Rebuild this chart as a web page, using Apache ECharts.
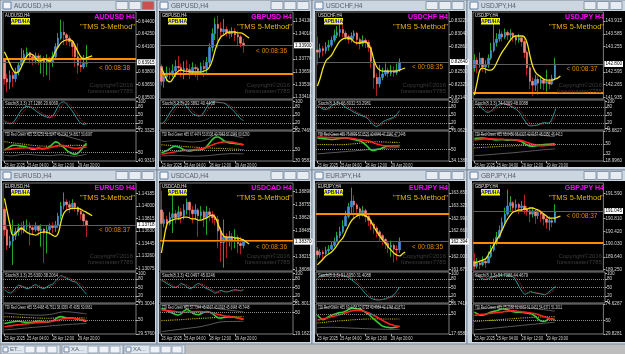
<!DOCTYPE html>
<html>
<head>
<meta charset="utf-8">
<script src="https://cdn.jsdelivr.net/npm/echarts@6.0.0/dist/echarts.min.js"></script>
<style>
  html, body { margin: 0; padding: 0; background: #b0b0b0; }
  #main { width: 625px; height: 354px; }
</style>
</head>
<body>
<div id="main"></div>
<script>
// x axis: H4 bars, 30 drawn + empty shift space on the right
const SLOTS = 47;
const X_LABELS = ['23 Apr 2025', '25 Apr 04:00', '28 Apr 12:00', '29 Apr 20:00'];
const X_LABEL_AT = [0, 8, 17, 26];
const STOCH_TICKS = [0, 20, 50, 80, 100];
const STOCH_LEVELS = [20, 50, 80];

// ---- AUDUSD (points, 1e-5) ----
const AUD_OPEN0 = 63950;
const AUD_CLOSE = [63720,63680,63760,63720,63800,63880,63950,64010,64030,63980,63940,63990,63950,63960,63920,63960,63920,63980,64100,64200,64270,64240,64200,64160,64100,63980,63880,63860,63900,63915];
const AUD_HIGH = [63960,63780,63820,63800,63850,63920,64080,64060,64090,64040,64010,64030,64020,64000,63990,64010,63980,64040,64140,64260,64420,64400,64260,64230,64180,64120,64140,63960,64000,64120];
const AUD_LOW = [63650,63560,63600,63620,63680,63760,63850,63920,63960,63900,63880,63900,63880,63780,63740,63760,63700,63860,63960,64080,64180,64120,64120,64100,63980,63860,63780,63800,63840,63860];
const AUD_MA = [64038,63967,63896,63826,63790,63802,63861,63932,63991,64014,64003,63967,63932,63932,63955,63944,63932,63967,64038,64097,64144,64168,64180,64180,64168,64109,64038,63979,63955,63967,63979,63991];
const AUD_TICKS = [63500,63650,63800,64100,64250,64400];
const AUD_ORANGE = 63960;
const AUD_K = [26,20,18,22,35,52,68,78,82,80,74,66,58,52,46,42,40,46,62,82,96,98,90,78,64,48,32,20,16,17];
const AUD_D = [30,26,22,20,25,36,52,66,76,80,79,74,66,59,52,47,43,43,49,63,80,92,95,89,78,64,49,34,23,21];
const AUD_GREEN = [52.4,54.1,56.0,57.3,57.4,57.0,56.5,56.3,55.1,54.0,53.2,53.5,54.6,53.8,53.7,54.5,56.1,58.5,61.0,60.2,57.1,55.3,52.2,50.1,48.6,48.1,49.2,52.1,56.0,59.4];
const AUD_RED = [53.0,53.1,53.4,53.8,54.1,54.3,54.6,54.7,54.8,54.5,54.3,54.0,53.8,53.9,54.0,54.4,54.9,55.6,56.4,57.0,57.3,57.0,56.2,55.4,54.7,54.2,54.4,54.9,55.3,55.5];
const AUD_BASE = [61.2,60.9,60.3,60.1,59.5,59.3,58.7,58.5,57.9,57.7,57.2,57.1,56.7,56.7,56.4,56.5,56.2,56.4,56.3,56.7,56.8,57.1,57.0,57.3,57.2,57.4,57.3,57.2,57.4,57.3];
const AUD_UP = [70.8,71.2,71.9,72.4,72.0,71.6,71.1,70.7,70.3,70.5,70.9,71.2,70.8,70.4,70.0,69.7,69.5,69.9,70.6,69.8,68.6,67.7,66.9,66.0,65.2,64.4,63.5,62.7,61.9,61.2];
const AUD_DN = [47.1,46.6,46.3,46.4,46.8,47.3,47.7,47.9,48.1,47.8,47.5,47.2,47.0,46.9,46.8,46.6,46.5,46.7,47.0,47.4,47.5,47.3,46.8,46.4,46.1,46.0,46.3,46.8,47.4,47.9];
const AUD_TDI_TICKS = [40.9319, 50, 72.3325];

// ---- GBPUSD ----
const GBP_OPEN0 = 133700;
const GBP_CLOSE = [133560,133600,133640,133620,133660,133700,133690,133660,133680,133670,133650,133690,133680,133660,133700,133680,133740,133880,134010,134100,134060,134030,134050,134020,134010,134030,134000,133980,133920,133900];
const GBP_HIGH = [133720,133650,133700,133690,133720,133760,133800,133730,133750,133760,133720,133740,133720,133700,133740,133760,133790,133920,134060,134160,134180,134120,134150,134080,134050,134070,134060,134040,134000,133960];
const GBP_LOW = [133520,133500,133560,133580,133600,133600,133620,133600,133580,133620,133580,133620,133600,133570,133620,133600,133640,133700,133840,133950,133880,133960,133990,133980,133960,133980,133940,133900,133880,133830];
const GBP_MA = [133686,133629,133572,133554,133582,133629,133657,133667,133657,133657,133648,133648,133648,133648,133648,133657,133667,133695,133761,133856,133931,133979,133998,134017,134026,134026,134026,134017,134017,134007,133988,133969];
const GBP_TICKS = [133410,133530,133650,133770,134010,134130];
const GBP_ORANGE = 133629;
const GBP_K = [18,25,40,58,72,85,95,98,92,80,66,55,50,46,48,60,78,92,97,98,96,95,94,88,80,70,60,48,36,29];
const GBP_D = [22,21,28,41,57,71,84,93,95,90,79,67,57,50,48,51,62,77,89,96,97,96,95,92,87,79,70,59,48,40];
const GBP_GREEN = [45.5,47.1,49.0,52.2,55.0,56.3,55.1,53.0,50.2,48.6,48.2,49.1,50.0,50.6,50.8,52.2,56.0,62.1,68.0,72.0,72.5,70.1,66.2,63.1,62.0,61.7,61.0,60.2,59.6,58.9];
const GBP_RED = [42.8,43.4,44.3,45.1,46.0,47.0,47.8,48.5,49.0,49.6,50.0,50.4,50.9,51.3,52.0,53.1,54.5,56.6,58.5,60.6,62.0,63.3,64.0,64.4,64.1,63.5,62.4,61.3,60.1,59.0];
const GBP_BASE = [58.9,58.7,58.2,58.0,57.5,57.3,56.7,56.5,55.9,55.7,55.2,55.1,54.6,54.5,54.0,53.9,53.5,53.5,53.1,53.0,52.7,52.7,52.3,52.2,51.9,51.8,51.3,51.3,50.9,50.8];
const GBP_UP = [64.2,64.6,65.1,65.4,66.1,66.4,66.0,65.4,65.1,64.4,64.1,63.9,64.1,64.6,65.0,66.2,68.1,71.0,74.1,76.0,77.1,76.9,76.6,75.9,75.6,74.9,74.1,72.9,72.1,70.9];
const GBP_DN = [39.5,39.9,40.0,40.3,40.5,40.6,40.3,40.2,39.9,39.8,39.5,39.5,39.3,39.5,39.7,39.8,40.1,40.5,41.0,41.6,42.0,42.6,43.0,43.2,43.5,43.7,43.6,43.4,43.4,43.2];
const GBP_TDI_TICKS = [30.9583, 50, 82.7469];

// ---- USDCHF ----
const CHF_OPEN0 = 82810;
const CHF_CLOSE = [82780,82830,82800,82850,82880,82950,83020,83060,83100,83050,83000,82960,83010,83050,82960,82900,82950,82920,82850,82650,82420,82330,82420,82470,82520,82480,82510,82490,82530,82640];
const CHF_HIGH = [83000,82900,82870,82920,82950,83000,83100,83150,83180,83170,83080,83030,83060,83090,83070,82990,83020,82980,82950,82880,82680,82480,82600,82560,82620,82560,82600,82580,82620,82690];
const CHF_LOW = [82600,82700,82720,82760,82800,82850,82920,82980,83000,82990,82950,82900,82920,82960,82880,82820,82860,82840,82780,82550,82260,82160,82280,82380,82440,82420,82440,82430,82460,82500];
const CHF_MA = [82299,82413,82555,82654,82697,82739,82810,82881,82938,82967,82981,82981,82967,82924,82910,82910,82924,82924,82881,82810,82668,82569,82526,82512,82512,82512,82512,82512,82512,82526,82541,82555];
const CHF_TICKS = [82140,82320,82500,82860,83040,83220];
const CHF_ORANGE = null;
const CHF_K = [85,78,72,70,76,84,90,95,93,86,78,72,66,60,55,50,46,42,35,22,12,8,15,24,30,34,38,42,52,66];
const CHF_D = [82,83,78,73,72,76,83,90,93,91,86,79,72,66,60,55,50,46,41,33,23,14,12,16,23,29,34,38,44,53];
const CHF_GREEN = [66.5,66.1,65.4,65.0,64.6,64.2,64.5,65.1,65.5,66.0,66.5,65.9,65.0,64.1,63.0,62.0,60.1,57.0,53.1,49.5,48.9,50.1,51.0,52.6,54.0,55.0,55.4,55.5,55.4,55.6];
const CHF_RED = [67.8,67.5,67.4,67.1,67.0,66.9,66.7,66.7,66.5,66.5,66.4,66.2,65.7,65.3,64.6,64.0,63.3,62.5,61.9,61.0,59.4,58.0,56.8,55.9,55.5,55.3,55.4,55.5,55.4,55.5];
const CHF_BASE = [57.2,57.3,57.1,57.2,57.0,57.1,56.9,57.0,57.1,57.0,57.2,57.6,57.8,58.3,58.6,59.1,59.4,59.9,60.2,60.7,61.0,61.1,60.9,60.8,60.6,60.4,60.3,60.1,60.1,60.0];
const CHF_UP = [72.1,71.9,72.0,71.7,71.5,71.1,71.0,70.9,71.1,71.2,71.6,71.5,71.5,71.1,70.8,70.3,70.0,69.4,69.0,70.1,71.0,71.6,71.4,71.0,70.4,70.1,69.4,69.0,68.4,68.0];
const CHF_DN = [44.0,44.4,44.6,45.1,45.3,45.7,46.0,46.2,46.7,47.0,47.2,47.7,48.0,48.2,48.7,49.0,49.2,49.7,50.0,50.2,50.7,51.0,51.2,51.7,52.0,52.2,52.6,52.7,53.0,53.1];
const CHF_TDI_TICKS = [34.1383, 50, 76.0621];

// ---- USDJPY (points, 1e-3) ----
const JPY_OPEN0 = 142700;
const JPY_CLOSE = [142900,142800,142950,142720,142780,142950,143150,143350,143450,143580,143500,143620,143550,143600,143500,143420,143480,143380,143100,142700,142350,142250,142400,142300,142380,142300,142350,142280,142420,142800];
const JPY_HIGH = [143050,142980,143100,142960,142900,143050,143350,143860,143600,143700,143650,143720,143680,143700,143620,143560,143580,143500,143450,143150,142750,142450,142520,142480,142500,142420,142650,142420,142520,142960];
const JPY_LOW = [142600,142560,142700,142600,142560,142700,142900,143100,143250,143380,143380,143450,143420,143450,143380,143300,143350,143250,142950,142500,142150,141960,142100,142000,142150,142120,142080,142150,142250,142380];
const JPY_MA = [141992,142330,142642,142694,142668,142642,142642,142694,142824,142980,143110,143214,143318,143422,143500,143526,143526,143526,143500,143344,143032,142746,142590,142512,142460,142408,142382,142382,142382,142408,142434,142486];
const JPY_TICKS = [141935,142265,142595,143255,143585,143915];
const JPY_ORANGE = 142044;
const JPY_K = [90,88,80,72,62,60,66,75,84,90,92,90,86,82,76,70,60,44,28,14,10,11,12,16,20,22,20,24,46,74];
const JPY_D = [86,89,86,80,71,65,63,67,75,83,89,91,89,86,81,76,69,58,44,29,17,12,11,13,16,19,21,22,30,48];
const JPY_GREEN = [60.0,60.5,60.9,61.0,60.4,59.5,58.6,58.0,57.4,57.8,58.1,57.5,57.0,57.2,57.5,56.9,56.0,54.3,51.1,48.0,46.1,45.8,46.6,47.5,48.4,49.0,49.4,49.6,50.1,50.3];
const JPY_RED = [57.5,58.1,58.5,59.0,59.3,59.4,59.3,59.1,58.8,58.7,58.5,58.3,58.2,58.0,57.8,57.4,57.0,56.1,54.5,52.8,51.0,49.6,48.3,47.5,47.1,47.0,47.3,47.8,48.2,48.6];
const JPY_BASE = [42.9,43.3,43.5,43.9,44.0,44.4,44.6,45.0,45.2,45.6,45.8,46.1,46.2,46.5,46.6,46.9,47.0,47.3,47.4,47.6,47.6,47.8,47.8,48.0,48.0,48.2,48.2,48.4,48.4,48.5];
const JPY_UP = [66.1,66.4,67.1,67.4,68.1,68.4,69.1,69.4,70.0,70.1,69.9,69.6,69.0,68.6,68.0,67.6,67.0,66.6,66.1,66.4,67.1,67.4,67.0,66.6,66.0,65.6,65.1,64.4,64.1,63.5];
const JPY_DN = [28.7,29.1,29.3,29.7,30.0,30.5,30.8,31.3,31.6,32.1,32.4,32.9,33.2,33.7,34.0,34.6,35.0,35.6,36.0,36.6,37.0,37.6,38.0,38.6,39.0,39.6,40.0,40.4,40.6,41.0];
const JPY_TDI_TICKS = [18.996, 32, 50, 73.6827];

// ---- EURUSD ----
const EUR_OPEN0 = 113950;
const EUR_CLOSE = [113650,113420,113480,113560,113620,113680,113650,113700,113720,113680,113650,113700,113640,113660,113600,113650,113700,113680,113720,113850,114000,114060,114020,113980,114040,113980,113920,113880,113780,113718];
const EUR_HIGH = [113980,113700,113560,113800,113680,113740,113760,113780,113800,113760,113720,113760,113720,113730,113680,113710,113740,113760,113780,113900,114060,114200,114100,114080,114100,114060,114000,113960,113900,113800];
const EUR_LOW = [113560,113350,113380,113130,113500,113560,113580,113600,113640,113420,113580,113620,113560,113400,113160,113300,113580,113600,113620,113680,113800,113950,113940,113900,113950,113920,113860,113800,113700,113540];
const EUR_MA = [114114,113915,113718,113570,113596,113644,113670,113644,113610,113590,113581,113570,113590,113610,113619,113610,113596,113570,113551,113596,113767,113892,113940,113955,113966,113966,113966,113951,113926,113906,113881,113856];
const EUR_TICKS = [113075,113260,113445,113630,113815,114000,114185];
const EUR_ORANGE = null;
const EUR_K = [42,35,30,36,48,58,55,50,46,48,56,60,54,48,46,52,58,62,72,84,92,88,82,78,72,70,62,50,38,26];
const EUR_D = [48,44,36,34,38,47,54,54,50,48,50,55,57,54,49,49,52,57,64,73,83,88,87,83,77,73,68,61,50,38];
const EUR_GREEN = [45.0,45.6,46.5,47.4,48.0,48.1,47.5,47.0,46.6,46.5,47.1,48.0,48.5,48.0,47.4,47.0,47.6,48.5,51.0,54.0,55.0,54.1,53.0,52.6,52.5,52.0,51.1,50.0,49.1,48.0];
const EUR_RED = [40.2,40.9,41.4,42.0,42.6,43.0,43.5,44.1,44.5,45.0,45.4,45.9,46.2,46.6,47.1,47.4,47.8,48.3,49.1,50.0,51.0,51.8,52.4,52.6,52.5,52.2,51.6,50.8,50.0,49.3];
const EUR_BASE = [54.8,54.8,54.6,54.5,54.3,54.2,53.9,53.8,53.5,53.4,53.1,53.0,52.8,52.7,52.6,52.6,52.6,52.7,52.8,53.0,53.2,53.3,53.4,53.4,53.4,53.3,53.2,53.1,53.0,52.9];
const EUR_UP = [60.1,59.9,59.6,59.1,58.8,58.3,58.0,57.7,57.6,57.3,57.2,57.0,57.1,57.0,57.2,57.6,58.0,58.6,59.5,60.6,61.5,62.1,62.0,61.8,61.4,61.0,60.4,60.0,59.4,59.0];
const EUR_DN = [35.4,35.8,36.0,36.5,36.8,37.3,37.6,38.1,38.4,38.9,39.2,39.6,39.8,40.2,40.4,40.9,41.2,41.7,42.0,42.4,42.6,43.0,43.2,43.6,43.8,44.1,44.2,44.5,44.6,44.8];
const EUR_TDI_TICKS = [29.576, 50, 73.3004];

// ---- USDCAD ----
const CAD_OPEN0 = 138700;
const CAD_CLOSE = [138560,138600,138560,138620,138660,138620,138680,138640,138700,138780,138700,138660,138700,138640,138680,138620,138680,138650,138620,138600,138480,138360,138420,138380,138420,138380,138400,138350,138330,138370];
const CAD_HIGH = [138900,138680,138640,138680,138860,138700,138740,138720,138760,138820,138790,138740,138760,138720,138740,138700,138740,138720,138690,138660,138640,138520,138600,138460,138480,138460,138500,138440,138420,138400];
const CAD_LOW = [138380,138520,138500,138540,138460,138560,138600,138560,138600,138650,138620,138560,138600,138420,138600,138520,138440,138580,138560,138540,138300,138160,138100,138200,138320,138280,138300,138250,138240,138300];
const CAD_MA = [138252,138418,138554,138585,138595,138606,138606,138616,138626,138626,138616,138606,138606,138595,138595,138606,138616,138637,138647,138626,138554,138481,138429,138418,138418,138418,138408,138408,138398,138387,138366,138346];
const CAD_TICKS = [138080,138215,138485,138620,138755,138890];
const CAD_ORANGE = 138375;
const CAD_K = [76,70,64,58,52,50,56,64,60,52,46,50,58,64,60,52,46,42,36,30,34,40,36,34,36,40,42,40,38,42];
const CAD_D = [72,74,70,64,58,53,53,57,60,59,53,49,51,57,61,59,53,47,41,36,33,35,37,37,35,37,39,41,40,45];
const CAD_GREEN = [55.7,54.0,52.1,50.4,48.5,47.0,46.2,48.1,52.0,54.0,52.1,49.0,47.1,46.5,48.0,50.1,51.0,50.0,48.1,45.0,42.1,41.5,42.5,43.4,43.8,43.5,43.0,42.1,41.0,40.1];
const CAD_RED = [53.3,53.0,52.6,52.0,51.5,51.1,50.5,50.2,50.0,50.3,50.5,50.8,51.0,51.0,50.9,50.7,50.5,50.0,49.1,48.0,47.0,46.1,45.2,44.5,44.0,43.4,42.8,42.0,41.2,40.5];
const CAD_BASE = [38.1,38.4,38.5,38.8,38.9,39.2,39.3,39.6,39.8,40.2,40.4,40.8,41.0,41.3,41.4,41.7,41.8,42.1,42.2,42.5,42.6,42.9,43.0,43.3,43.4,43.5,43.6,43.7,43.8,43.8];
const CAD_UP = [60.0,60.6,61.0,61.4,61.5,61.1,60.5,60.1,59.5,59.6,59.4,59.5,59.0,58.6,58.0,57.6,57.0,56.6,56.0,55.6,55.0,54.6,54.0,53.6,53.0,52.6,52.0,51.6,51.0,50.5];
const CAD_DN = [22.5,23.1,23.5,24.1,24.5,25.1,25.5,26.1,26.5,27.1,27.5,28.1,28.5,29.1,29.6,30.6,31.5,32.6,33.5,34.6,35.5,36.4,36.7,36.8,36.9,37.0,37.0,37.1,37.2,37.2];
const CAD_TDI_TICKS = [19.1623, 50, 61.8013];

// ---- EURJPY ----
const EJ_OPEN0 = 162150;
const EJ_CLOSE = [162050,162120,162080,162160,162200,162300,162380,162550,162650,162800,163050,163300,163450,163350,163250,163150,163200,163050,162950,162850,162750,162650,162550,162450,162350,162250,162300,162200,162180,162394];
const EJ_HIGH = [162250,162200,162180,162260,162300,162400,162500,162650,162780,162950,163200,163400,163800,163600,163400,163300,163320,163250,163100,163000,162900,162800,162700,162600,162500,162400,162420,162350,162300,162500];
const EJ_LOW = [161950,161980,161900,162050,162080,162180,162250,162400,162480,162600,162800,163000,163100,163000,163050,162980,163050,162900,162800,162700,162600,162500,162400,162300,162200,162100,162000,161850,161900,162100];
const EJ_MA = [161788,161866,161944,162022,162074,162126,162204,162308,162412,162490,162646,162802,162932,163010,163062,163088,163088,163062,163010,162906,162776,162646,162542,162438,162360,162256,162178,162100,162048,162022,162074,162126];
const EJ_TICKS = [161675,162005,162665,162995,163325,163655];
const EJ_ORANGE = 163132;
const EJ_K = [82,90,94,96,97,96,95,95,94,92,90,85,78,70,62,52,40,28,18,12,8,6,6,8,10,14,18,24,36,52];
const EJ_D = [78,82,88,93,95,96,96,95,95,94,92,89,84,78,70,61,51,40,29,19,13,9,7,7,8,11,14,18,26,31];
const EJ_GREEN = [48.4,44.1,41.0,43.1,46.0,48.4,50.1,51.5,52.6,53.4,55.1,57.5,59.6,59.5,59.0,58.0,56.1,53.0,50.1,46.0,42.1,38.0,34.1,30.5,29.1,28.5,28.0,28.3,29.0,30.5];
const EJ_RED = [40.7,41.5,42.6,43.5,44.6,45.8,47.0,48.3,49.5,50.9,52.4,54.0,55.3,56.0,56.3,56.0,55.2,54.0,52.4,50.5,48.0,45.4,42.8,40.0,37.4,35.0,33.1,31.5,30.6,30.0];
const EJ_BASE = [35.6,36.1,36.5,37.1,37.5,38.1,38.5,39.0,39.3,39.5,39.9,40.2,40.7,41.0,41.4,41.6,41.9,42.0,42.2,42.3,42.3,42.4,42.3,42.3,42.2,42.2,42.3,42.3,42.3,42.3];
const EJ_UP = [58.0,59.1,60.0,61.1,62.0,63.1,64.0,65.0,65.6,66.1,66.4,66.6,66.5,66.4,66.0,65.6,65.0,64.6,64.0,63.5,63.1,62.5,62.0,61.6,61.0,60.5,60.1,59.5,59.0,58.5];
const EJ_DN = [28.0,28.2,28.4,28.5,28.6,28.6,28.5,28.4,28.2,28.0,27.8,27.6,27.3,27.2,27.0,26.8,26.6,26.4,26.2,26.0,25.8,25.7,25.6,25.5,25.4,25.4,25.3,25.4,25.4,25.4];
const EJ_TDI_TICKS = [17.6585, 50, 66.7414];

// ---- GBPJPY ----
const GJ_OPEN0 = 189500;
const GJ_CLOSE = [189350,189450,189400,189500,189450,189650,189850,190050,190250,190450,190700,190950,191200,191300,191150,191250,191150,191200,191100,191050,190950,191050,190900,191000,190950,190800,190700,190750,190700,191045];
const GJ_HIGH = [189750,189600,189550,189650,189600,189800,190000,190200,190400,190600,190850,191150,191700,191500,191350,191400,191300,191350,191550,191200,191150,191150,191100,191100,191080,190950,190900,190880,190850,191250];
const GJ_LOW = [189250,189280,189260,189350,189300,189450,189600,189800,190000,190200,190400,190650,190900,191050,191000,191050,190950,191050,190950,190900,190700,190850,190650,190800,190700,190600,190500,190450,190550,190700];
const GJ_MA = [189449,189480,189510,189541,189572,189695,189848,190002,190155,190278,190462,190646,190800,190923,191015,191046,191076,191076,191107,191107,191138,191138,191107,191076,191015,190953,190892,190830,190830,190830,190861,190892];
const GJ_TICKS = [189250,189640,190030,190420,190810,191590];
const GJ_ORANGE = 190084;
const GJ_K = [95,92,86,80,78,82,86,90,92,94,95,94,92,90,86,70,52,36,26,30,36,32,30,28,26,24,30,38,46,54];
const GJ_D = [92,94,91,86,81,80,82,86,89,92,94,94,94,92,89,82,69,53,38,31,31,33,33,30,28,26,27,31,38,44];
const GJ_GREEN = [62.5,60.1,58.0,57.8,59.1,61.0,62.5,63.6,64.5,66.0,67.2,67.0,66.1,64.5,63.1,62.5,62.4,62.0,61.6,61.0,60.2,59.0,56.1,52.0,49.1,48.5,50.0,53.0,52.1,50.8];
const GJ_RED = [57.8,58.3,58.9,59.3,59.8,60.4,60.8,61.3,61.9,62.3,62.8,63.5,64.0,64.3,64.3,64.0,63.5,63.1,62.5,62.0,61.5,60.8,60.0,59.0,57.5,56.0,54.6,53.1,52.0,51.5];
const GJ_BASE = [48.5,48.9,49.1,49.5,49.7,50.1,50.3,50.7,50.9,51.3,51.5,51.9,52.1,52.5,52.7,53.1,53.3,53.7,53.9,54.2,54.5,54.7,54.9,55.1,55.2,55.3,55.4,55.5,55.5,55.5];
const GJ_UP = [66.0,66.6,67.0,67.6,68.0,68.6,69.0,69.6,70.0,70.6,71.0,71.6,72.0,72.1,71.5,71.1,70.5,70.1,69.5,69.1,68.5,68.1,67.5,67.1,66.5,66.1,65.5,65.1,64.5,64.0];
const GJ_DN = [36.0,36.4,36.6,37.1,37.4,37.9,38.2,38.7,39.0,39.5,39.8,40.3,40.6,41.1,41.4,41.9,42.2,42.7,43.0,43.5,43.8,44.3,44.6,45.1,45.4,45.9,46.2,46.7,47.0,47.4];
const GJ_TDI_TICKS = [29.8281, 50, 74.6287];

// window layout
const COLS = [
  { x: 0, w: 157, bx: 2, bw: 153, plot: 3, pw: 133, br: 155 },
  { x: 157, w: 155, bx: 159, bw: 151, plot: 160, pw: 133, br: 310 },
  { x: 312, w: 155, bx: 315, bw: 150, plot: 316, pw: 133, br: 465 },
  { x: 467, w: 160, bx: 472, bw: 155, plot: 473, pw: 132, br: 623 }
];
const ROWS = [
  { y: 0, h: 170, by: 11, bh: 156, main: [12, 99], stoch: [100, 130], tdi: [131, 161] },
  { y: 170, h: 174, by: 181, bh: 161, main: [183, 271], stoch: [272, 303], tdi: [304, 334] }
];

const CHARTS = [
  { sym: 'AUDUSD', col: 0, row: 0, div: 1e5, dec: 5, min: 63480, max: 64510, open0: AUD_OPEN0, close: AUD_CLOSE, high: AUD_HIGH, low: AUD_LOW, ma: AUD_MA, ticks: AUD_TICKS, orange: AUD_ORANGE,
    timer: '< 00:08:38', k: AUD_K, d: AUD_D, stochTxt: 'Stoch(8,3,3) 17.1286 20.6069',
    tdi: [AUD_UP, AUD_DN, AUD_BASE, AUD_GREEN, AUD_RED], tdiTicks: AUD_TDI_TICKS, tdiTxt: 'TDI Red Green #25 55.6251 51.5247 43.2342 54.8817 50.6087', active: true },
  { sym: 'GBPUSD', col: 1, row: 0, div: 1e5, dec: 5, min: 133393, max: 134215, open0: GBP_OPEN0, close: GBP_CLOSE, high: GBP_HIGH, low: GBP_LOW, ma: GBP_MA, ticks: GBP_TICKS, orange: GBP_ORANGE,
    timer: '< 00:08:36', k: GBP_K, d: GBP_D, stochTxt: 'Stoch(8,3,3) 29.3892 40.4408',
    tdi: [GBP_UP, GBP_DN, GBP_BASE, GBP_GREEN, GBP_RED], tdiTicks: GBP_TDI_TICKS, tdiTxt: 'TDI Red Green #35 67.4474 53.8308 40.7063 57.0949 60.6290' },
  { sym: 'USDCHF', col: 2, row: 0, div: 1e5, dec: 5, min: 82115, max: 83350, open0: CHF_OPEN0, close: CHF_CLOSE, high: CHF_HIGH, low: CHF_LOW, ma: CHF_MA, ticks: CHF_TICKS, orange: CHF_ORANGE,
    timer: '< 00:08:35', k: CHF_K, d: CHF_D, stochTxt: 'Stoch(8,3,3) 66.8032 53.2981',
    tdi: [CHF_UP, CHF_DN, CHF_BASE, CHF_GREEN, CHF_RED], tdiTicks: CHF_TDI_TICKS, tdiTxt: 'TDI Red Green #35 75.8899 57.6529 40.6646 47.2940 47.2446' },
  { sym: 'USDJPY', col: 3, row: 0, div: 1e3, dec: 3, min: 141890, max: 144150, open0: JPY_OPEN0, close: JPY_CLOSE, high: JPY_HIGH, low: JPY_LOW, ma: JPY_MA, ticks: JPY_TICKS, orange: JPY_ORANGE,
    timer: '< 00:08:37', k: JPY_K, d: JPY_D, stochTxt: 'Stoch(8,3,3) 74.6369 48.0088',
    tdi: [JPY_UP, JPY_DN, JPY_BASE, JPY_GREEN, JPY_RED], tdiTicks: JPY_TDI_TICKS, tdiTxt: 'TDI Red Green #35 68.0450 55.0307 42.0157 48.0950 46.4413' },
  { sym: 'EURUSD', col: 0, row: 1, div: 1e5, dec: 5, min: 113040, max: 114340, open0: EUR_OPEN0, close: EUR_CLOSE, high: EUR_HIGH, low: EUR_LOW, ma: EUR_MA, ticks: EUR_TICKS, orange: EUR_ORANGE,
    timer: '< 00:08:37', k: EUR_K, d: EUR_D, stochTxt: 'Stoch(8,3,3) 25.6300 38.2064',
    tdi: [EUR_UP, EUR_DN, EUR_BASE, EUR_GREEN, EUR_RED], tdiTicks: EUR_TDI_TICKS, tdiTxt: 'TDI Red Green #35 55.4468 46.7511 38.0059 47.4050 50.0661' },
  { sym: 'USDCAD', col: 1, row: 1, div: 1e5, dec: 5, min: 138065, max: 138980, open0: CAD_OPEN0, close: CAD_CLOSE, high: CAD_HIGH, low: CAD_LOW, ma: CAD_MA, ticks: CAD_TICKS, orange: CAD_ORANGE,
    timer: '< 00:08:36', k: CAD_K, d: CAD_D, stochTxt: 'Stoch(8,3,3) 42.0497 45.0246',
    tdi: [CAD_UP, CAD_DN, CAD_BASE, CAD_GREEN, CAD_RED], tdiTicks: CAD_TDI_TICKS, tdiTxt: 'TDI Red Green #35 57.7344 45.9537 43.0918 45.6648 45.7448' },
  { sym: 'EURJPY', col: 2, row: 1, div: 1e3, dec: 3, min: 161630, max: 163920, open0: EJ_OPEN0, close: EJ_CLOSE, high: EJ_HIGH, low: EJ_LOW, ma: EJ_MA, ticks: EJ_TICKS, orange: EJ_ORANGE,
    timer: '< 00:08:35', k: EJ_K, d: EJ_D, stochTxt: 'Stoch(8,3,3) 51.6950 31.4088',
    tdi: [EJ_UP, EJ_DN, EJ_BASE, EJ_GREEN, EJ_RED], tdiTicks: EJ_TDI_TICKS, tdiTxt: 'TDI Red Green #35 69.4458 52.6718 40.4984 42.1748 43.8711' },
  { sym: 'GBPJPY', col: 3, row: 1, div: 1e3, dec: 3, min: 189205, max: 191905, open0: GJ_OPEN0, close: GJ_CLOSE, high: GJ_HIGH, low: GJ_LOW, ma: GJ_MA, ticks: GJ_TICKS, orange: GJ_ORANGE,
    timer: '< 00:08:37', k: GJ_K, d: GJ_D, stochTxt: 'Stoch(8,3,3) 54.7386 44.4679',
    tdi: [GJ_UP, GJ_DN, GJ_BASE, GJ_GREEN, GJ_RED], tdiTicks: GJ_TDI_TICKS, tdiTxt: 'TDI Red Green #35 75.2088 62.6832 51.0431 54.6371 51.2011' }
];

const FONT = 'Liberation Sans';
const AXIS_TXT = '#d6d6d6';
const slotNames = [];
for (let i = 0; i < SLOTS; i++) slotNames.push(String(i));

const option = {
  backgroundColor: '#b2b2b2',
  animation: false,
  grid: [], xAxis: [], yAxis: [], series: [], graphic: []
};
const G = option.graphic;

// sx squeezes small text horizontally, like the terminal's narrow font
function txt(x, y, s, size, fill, extra, sx) {
  G.push({ type: 'text', x: x, y: y, z: 60, silent: true, scaleX: sx || 1,
    style: Object.assign({ text: s, fontSize: size, fill: fill, fontFamily: FONT }, extra || {}) });
}
function box(x, y, w, h, fill, stroke, z) {
  G.push({ type: 'rect', z: z, silent: true, shape: { x: x, y: y, width: w, height: h },
    style: { fill: fill, stroke: stroke || null, lineWidth: stroke ? 1 : 0 } });
}

function addPanel(left, top, width, height, yMin, yMax, ticks, fmt, showX) {
  const gi = option.grid.length;
  option.grid.push({ left: left, top: top, width: width, height: height, show: true,
    borderColor: '#7c7c7c', borderWidth: 1, backgroundColor: 'transparent' });
  option.xAxis.push({ gridIndex: gi, type: 'category', data: slotNames, boundaryGap: true,
    axisLine: { show: false },
    axisTick: { show: showX, interval: (i) => X_LABEL_AT.indexOf(i) >= 0, alignWithLabel: true, length: 2, lineStyle: { color: '#b0b0b0' } },
    axisLabel: { show: false },
    splitLine: { show: false } });
  option.yAxis.push({ gridIndex: gi, type: 'value', position: 'right', min: yMin, max: yMax,
    axisLine: { show: false },
    axisTick: { show: true, customValues: ticks, length: 2, lineStyle: { color: '#b0b0b0' } },
    axisLabel: { customValues: ticks, formatter: fmt, fontSize: 4.6, color: AXIS_TXT, margin: 2, fontFamily: FONT },
    splitLine: { show: false } });
  return gi;
}

function lineSeries(gi, data, color, width, type, extra) {
  return Object.assign({ type: 'line', xAxisIndex: gi, yAxisIndex: gi, data: data, symbol: 'none',
    smooth: 0.3, silent: true, lineStyle: { color: color, width: width, type: type || 'solid' } }, extra || {});
}

// bottom strip of minimised windows
box(0, 344, 625, 10, '#bdbdbd', null, -30);
[[1, 59, 'ET...'], [62, 61, 'XA...'], [124, 61, 'XA...']].forEach(([x, w, t]) => {
  box(x, 345, w, 9, '#dfe6ee', '#8c9bad', -25);
  box(x + 2, 347, 5, 5, '#f4f4f4', '#6a86aa', -24);
  txt(x + 9, 346.5, t, 6, '#5a6470');
  [0, 1, 2].forEach(j => box(x + w - 35 + j * 11, 346, 10, 7, '#eef2f6', '#97a5b6', -24));
});

const tdiGrids = [];

CHARTS.forEach(c => {
  const C = COLS[c.col], R = ROWS[c.row];
  const P = C.plot, PW = C.pw;
  const M = R.main, S = R.stoch, T = R.tdi;

  // window frame, title bar and black client area
  box(C.x, R.y, C.w, R.h, '#ccd6e1', '#7b8a9c', -30);
  box(C.bx, R.by, C.bw, R.bh, '#000000', null, -20);
  box(C.x + 3, R.y + 2, 8, 7, '#f6f6f6', '#5d7ea8', -19);
  txt(C.x + 14, R.y + 2.5, c.sym + ',H4', 6.5, '#56606c');
  [0, 1, 2].forEach(j => {
    const bx = C.br - 39 + j * 13;
    const red = c.active && j === 2;
    box(bx, R.y + 1.5, 12, 8, red ? '#c9534c' : '#e7ecf2', '#8796a8', -19);
  });

  // main price panel
  const fmtPrice = (v) => (v / c.div).toFixed(c.dec);
  const gm = addPanel(P, M[0], PW, M[1] - M[0], c.min, c.max, c.ticks, fmtPrice, false);
  const bars = c.close.map((v, i) => [i ? c.close[i - 1] : c.open0, v, c.low[i], c.high[i]]);
  const bodies = bars.map(b => [b[0], b[1], Math.min(b[0], b[1]), Math.max(b[0], b[1])]);
  const cur = c.close[c.close.length - 1];
  const marks = [];
  if (c.orange !== null) {
    marks.push({ yAxis: c.orange, lineStyle: { color: '#ff8a00', width: 2, type: 'solid' }, label: { show: false } });
  }
  marks.push({ yAxis: cur, lineStyle: { color: '#5e5e5e', width: 1, type: 'solid' },
    label: { show: true, position: 'end', distance: 1, formatter: fmtPrice(cur), backgroundColor: '#ffffff',
      color: '#000000', fontSize: 4.6, padding: [1, 1, 0, 1], fontFamily: FONT } });
  marks.push({ yAxis: cur, lineStyle: { color: '#5e5e5e', width: 1, type: 'solid' },
    label: { show: true, position: 'insideEndBottom', distance: [6, 2], formatter: c.timer,
      color: '#e88a00', fontSize: 6.5, fontFamily: FONT } });
  option.series.push({ type: 'candlestick', xAxisIndex: gm, yAxisIndex: gm, data: bars, barWidth: 1, silent: true,
    itemStyle: { color: '#22a822', color0: '#b01e1e', borderColor: '#22a822', borderColor0: '#b01e1e', borderWidth: 1 },
    markLine: { symbol: 'none', silent: true, animation: false, data: marks } });
  option.series.push({ type: 'candlestick', xAxisIndex: gm, yAxisIndex: gm, data: bodies, barWidth: 2, silent: true,
    itemStyle: { color: '#4289e0', color0: '#f08a7e', borderColor: '#4a94ea', borderColor0: '#f4917f', borderWidth: 0.6 } });
  option.series.push(lineSeries(gm, c.ma, '#f3e31c', 1.3, 'solid', { z: 5, smooth: 0.45 }));

  txt(P + 2, M[0] + 1.5, c.sym + ',H4', 5, '#e6e6e6', null, 0.85);
  box(P + 8, M[0] + 6, 19, 6.5, '#ffff00', null, 55);
  txt(P + 17.5, M[0] + 6.8, 'APB/HA', 5, '#0a0ad0', { align: 'center', fontWeight: 'bold' });
  txt(P + PW - 1, M[0] + 2, c.sym + ' H4', 7, '#ff00ff', { align: 'right', fontWeight: 'bold' });
  txt(P + PW - 1, M[0] + 10.5, '"TMS 5-Method"', 7.5, '#f0b400', { align: 'right' });
  txt(P + PW - 3, M[0] + 70, 'Copyright©2016', 6, '#3c3c3c', { align: 'right' });
  txt(P + PW - 3, M[0] + 76, 'forexmaster7785', 6, '#3c3c3c', { align: 'right' });

  // stochastic panel
  const gs = addPanel(P, S[0], PW, S[1] - S[0], -5, 105, STOCH_TICKS, (v) => String(v), false);
  option.series.push(lineSeries(gs, c.k, '#2c9a9c', 1, 'solid', {
    markLine: { symbol: 'none', silent: true, animation: false, label: { show: false },
      lineStyle: { color: '#8a8a8a', width: 1, type: 'dotted' }, data: STOCH_LEVELS.map(v => ({ yAxis: v })) } }));
  option.series.push(lineSeries(gs, c.d, '#b52a2a', 1, 'dotted'));
  txt(P + 2, S[0] + 1.5, c.stochTxt, 5, AXIS_TXT, null, 0.8);

  // TDI panel
  const tt = c.tdiTicks;
  const gt = addPanel(P, T[0], PW, T[1] - T[0], tt[0], tt[tt.length - 1], tt,
    (v) => Number.isInteger(v) ? String(v) : v.toFixed(4), true);
  tdiGrids.push({ gi: gt, bottom: T[1] });
  option.series.push(lineSeries(gt, c.tdi[0], '#5c5c5c', 1, 'solid', {
    markLine: { symbol: 'none', silent: true, animation: false, label: { show: false },
      lineStyle: { color: '#8a8a8a', width: 1, type: 'dotted' }, data: [{ yAxis: 50 }] } }));
  option.series.push(lineSeries(gt, c.tdi[1], '#5c5c5c', 1));
  option.series.push(lineSeries(gt, c.tdi[2], '#cdb400', 1.1, 'dotted'));
  option.series.push(lineSeries(gt, c.tdi[3], '#34cf34', 1.6));
  option.series.push(lineSeries(gt, c.tdi[4], '#ff2020', 1.6));
  txt(P + 2, T[0] + 1.5, c.tdiTxt, 5, AXIS_TXT, null, 0.62);
});

const chart = echarts.init(document.getElementById('main'), null, { renderer: 'canvas' });
chart.setOption(option);

// time labels under each TDI panel, placed through the category axis
tdiGrids.forEach(t => {
  X_LABEL_AT.forEach((at, j) => {
    const px = chart.convertToPixel({ xAxisIndex: t.gi }, String(at));
    txt(px, t.bottom + 2.5, X_LABELS[j], 5, AXIS_TXT, null, 0.75);
  });
});
chart.setOption({ graphic: G });
</script>
</body>
</html>
